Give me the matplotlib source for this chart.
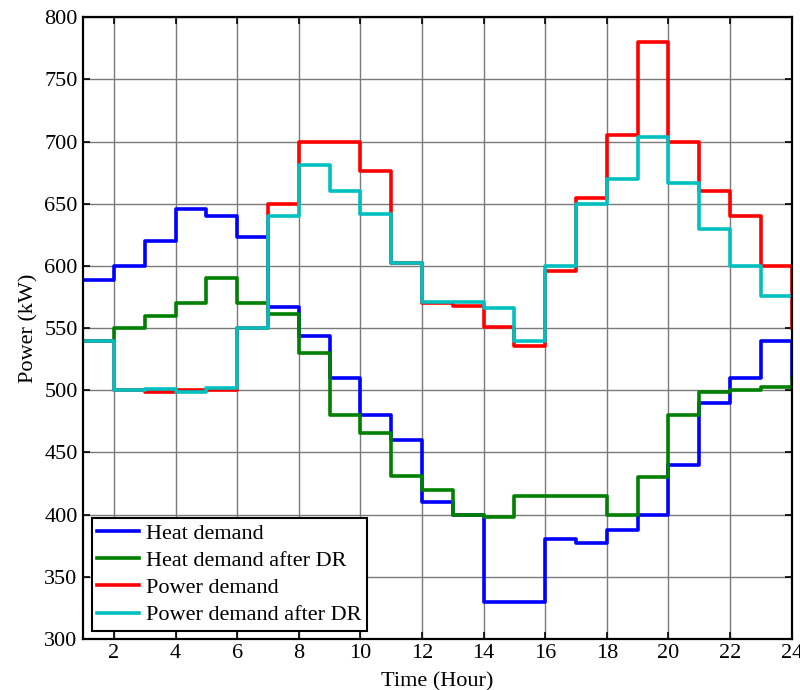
import numpy as np
import matplotlib
matplotlib.use('Agg')
import matplotlib.pyplot as plt

# hourly values (kW), hour 1..24
hours = np.arange(1, 25)
heat = [589, 600, 620, 646, 640, 623, 567, 544, 510, 480, 460, 410,
        400, 330, 330, 380, 377, 388, 400, 440, 490, 510, 540, 510]
heat_dr = [540, 550, 560, 570, 590, 570, 561, 530, 480, 466, 431, 420,
           400, 398, 415, 415, 415, 400, 430, 480, 499, 500, 503, 510]
power = [540, 500, 499, 500, 500, 550, 650, 700, 700, 676, 602, 570,
         568, 551, 536, 596, 655, 705, 780, 700, 660, 640, 600, 550]
power_dr = [540, 500, 501, 499, 502, 550, 640, 681, 660, 642, 602, 571,
            571, 566, 540, 600, 650, 670, 704, 667, 630, 600, 576, 576]

series = [
    (heat, 'Heat demand', (0, 0, 1)),
    (heat_dr, 'Heat demand after DR', (0, 0.5, 0)),
    (power, 'Power demand', (1, 0, 0)),
    (power_dr, 'Power demand after DR', (0, 0.75, 0.75)),
]

plt.rcParams['font.family'] = ['Liberation Serif', 'DejaVu Serif']
plt.rcParams['font.size'] = 16

fig = plt.figure(figsize=(8, 6.9), dpi=100)
ax = fig.add_axes([0.104, 0.074, 0.8856, 0.901])

for vals, name, col in series:
    ax.plot(hours, vals, drawstyle='steps-post', color=col, linewidth=2.6, label=name)

ax.set_xlim(1, 24)
ax.set_ylim(300, 800)
ax.set_xticks(np.arange(2, 25, 2))
ax.set_yticks(np.arange(300, 801, 50))
ax.grid(True, color='#7a7a7a', linewidth=1.0)
ax.set_axisbelow(True)
ax.tick_params(direction='in', top=True, right=True, length=5, width=1.2, pad=4)
for sp in ax.spines.values():
    sp.set_linewidth(1.6)

ax.set_xlabel('Time (Hour)', labelpad=6)
ax.set_ylabel('Power (kW)', labelpad=4)

leg = ax.legend(loc='lower left', bbox_to_anchor=(0.012, 0.013), fancybox=False,
                framealpha=1, edgecolor='black', borderpad=0.25, labelspacing=0.3,
                handlelength=1.9, handletextpad=0.3, borderaxespad=0)
leg.get_frame().set_linewidth(1.5)

plt.savefig('out.png', dpi=100)
